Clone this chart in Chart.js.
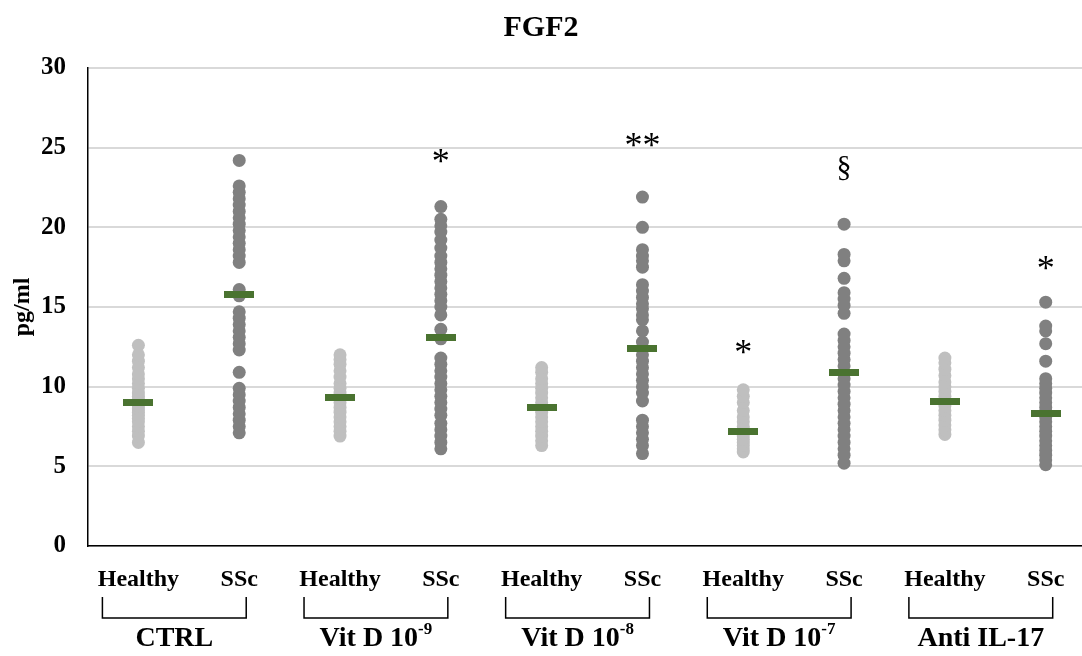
<!DOCTYPE html>
<html>
<head>
<meta charset="utf-8">
<script src="https://cdn.jsdelivr.net/npm/chart.js@4.4.1/dist/chart.umd.min.js"></script>
<style>
	html, body { margin: 0; padding: 0; background: #fff; overflow: hidden; }
	canvas { display: block; }
</style>
</head>
<body>
<canvas id="fgf2" width="1082" height="656"></canvas>
<script>
const SUB_LABELS = ['Healthy', 'SSc', 'Healthy', 'SSc', 'Healthy', 'SSc', 'Healthy', 'SSc', 'Healthy', 'SSc'];
const GROUPS = ['CTRL', 'Vit D 10', 'Vit D 10', 'Vit D 10', 'Anti IL-17'];
const GROUP_SUP = ['', '-9', '-8', '-7', ''];

// dot values, one list per column
const ctrl_healthy = [6.5, 6.9, 7.2, 7.5, 7.8, 8.0, 8.2, 8.4, 8.6, 8.8, 9.0, 9.2, 9.4, 9.6, 9.9, 10.2, 10.5, 10.8, 11.2, 11.6, 12.0, 12.6];
const ctrl_ssc = [24.2, 22.6, 22.2, 21.8, 21.4, 21.0, 20.6, 20.2, 19.8, 19.4, 19.0, 18.6, 18.2, 17.8, 16.1, 15.7, 14.7, 14.3, 13.9, 13.5, 13.1, 12.7, 12.3, 10.9, 9.9, 9.5, 9.1, 8.7, 8.3, 7.9, 7.5, 7.1];
const vd9_healthy = [6.9, 7.2, 7.5, 7.8, 8.1, 8.4, 8.7, 9.0, 9.3, 9.6, 9.9, 10.2, 10.6, 11.0, 11.4, 11.7, 12.0];
const vd9_ssc = [21.3, 20.5, 20.1, 19.7, 19.2, 18.7, 18.2, 17.8, 17.4, 17.0, 16.6, 16.2, 15.8, 15.4, 15.0, 14.5, 13.6, 13.0, 11.8, 11.4, 11.0, 10.6, 10.2, 9.8, 9.4, 9.0, 8.6, 8.2, 7.7, 7.3, 6.9, 6.5, 6.1];
const vd8_healthy = [6.3, 6.6, 6.9, 7.2, 7.5, 7.8, 8.1, 8.4, 8.7, 9.0, 9.3, 9.6, 9.9, 10.2, 10.5, 10.9, 11.2];
const vd8_ssc = [21.9, 20.0, 18.6, 18.2, 17.9, 17.5, 16.4, 16.0, 15.6, 15.2, 14.9, 14.5, 14.2, 13.5, 12.8, 12.4, 12.0, 11.6, 11.2, 10.8, 10.4, 10.0, 9.6, 9.1, 7.9, 7.5, 7.1, 6.7, 6.3, 5.8];
const vd7_healthy = [5.9, 6.1, 6.3, 6.5, 6.7, 6.9, 7.1, 7.3, 7.5, 7.8, 8.1, 8.5, 9.0, 9.4, 9.8];
const vd7_ssc = [20.2, 18.3, 17.9, 16.8, 15.9, 15.5, 15.1, 14.6, 13.3, 12.9, 12.5, 12.1, 11.7, 11.3, 10.9, 10.5, 10.1, 9.7, 9.3, 8.9, 8.5, 8.1, 7.7, 7.3, 6.9, 6.5, 6.1, 5.7, 5.2];
const il17_healthy = [7.0, 7.3, 7.6, 7.9, 8.2, 8.5, 8.8, 9.1, 9.4, 9.7, 10.0, 10.3, 10.7, 11.1, 11.5, 11.8];
const il17_ssc = [15.3, 13.8, 13.5, 12.7, 11.6, 10.5, 10.2, 9.9, 9.6, 9.3, 9.0, 8.7, 8.4, 8.1, 7.8, 7.5, 7.2, 6.9, 6.6, 6.3, 6.0, 5.7, 5.4, 5.1];

// mean bars
const MEANS = [9.0, 15.8, 9.3, 13.1, 8.7, 12.4, 7.2, 10.9, 9.1, 8.3];

// significance marks: column (1-based), text, value
const MARK_COL = [4, 6, 7, 8, 10];
const MARK_TEXT = ['*', '**', '*', '§', '*'];
const MARK_VAL = [24.5, 25.5, 12.5, 23.7, 17.8];

const Y_TICKS = [0, 5, 10, 15, 20, 25, 30];

const COLUMNS = [ctrl_healthy, ctrl_ssc, vd9_healthy, vd9_ssc, vd8_healthy, vd8_ssc, vd7_healthy, vd7_ssc, il17_healthy, il17_ssc];

const SERIF = '"Liberation Serif", "Times New Roman", serif';

const healthyPts = [];
const sscPts = [];
COLUMNS.forEach((col, i) => {
	col.forEach(v => {
		const p = { x: i + 1, y: v };
		if (i % 2 === 0) healthyPts.push(p); else sscPts.push(p);
	});
});
const meanPts = MEANS.map((m, i) => ({ x: i + 1, y: m }));

// green dash used as point style for the means
const dash = document.createElement('canvas');
dash.width = 30;
dash.height = 7;
const dctx = dash.getContext('2d');
dctx.fillStyle = '#4a7330';
dctx.fillRect(0, 0, 30, 7);

const groupPlugin = {
	id: 'groupLabels',
	afterDraw(chart) {
		const ctx = chart.ctx;
		const xs = chart.scales.x;
		const ys = chart.scales.y;
		ctx.save();
		// significance marks
		ctx.fillStyle = '#000';
		ctx.textAlign = 'center';
		ctx.textBaseline = 'middle';
		MARK_COL.forEach((c, i) => {
			const isAst = MARK_TEXT[i].indexOf('*') >= 0;
			ctx.font = (isAst ? '36px ' : '30px ') + SERIF;
			const y = ys.getPixelForValue(MARK_VAL[i]) + (isAst ? 8 : 0);
			ctx.fillText(MARK_TEXT[i], xs.getPixelForValue(c), y);
		});
		// brackets + group names
		ctx.strokeStyle = '#000';
		ctx.lineWidth = 1.5;
		GROUPS.forEach((g, i) => {
			const left = xs.getPixelForValue(2 * i + 1) - 36;
			const right = xs.getPixelForValue(2 * i + 2) + 7;
			const top = 597, bot = 618;
			ctx.beginPath();
			ctx.moveTo(left, top);
			ctx.lineTo(left, bot);
			ctx.lineTo(right, bot);
			ctx.lineTo(right, top);
			ctx.stroke();

			const mid = (left + right) / 2;
			ctx.font = 'bold 28px ' + SERIF;
			const w1 = ctx.measureText(g).width;
			ctx.font = 'bold 17px ' + SERIF;
			const w2 = GROUP_SUP[i] ? ctx.measureText(GROUP_SUP[i]).width : 0;
			const start = mid - (w1 + w2) / 2;
			ctx.textAlign = 'left';
			ctx.textBaseline = 'alphabetic';
			ctx.font = 'bold 28px ' + SERIF;
			ctx.fillText(g, start, 646);
			if (GROUP_SUP[i]) {
				ctx.font = 'bold 17px ' + SERIF;
				ctx.fillText(GROUP_SUP[i], start + w1, 634);
			}
		});
		ctx.restore();
	}
};

const config_fgf2 = {
	type: 'scatter',
	data: {
		datasets: [
			{
				label: 'Mean',
				data: meanPts,
				pointStyle: dash,
				order: 0,
			},
			{
				label: 'Healthy',
				data: healthyPts,
				pointRadius: 6.5,
				pointHoverRadius: 6.5,
				borderWidth: 0,
				backgroundColor: '#bfbfbf',
				borderColor: '#bfbfbf',
				order: 1,
			},
			{
				label: 'SSc',
				data: sscPts,
				pointRadius: 6.5,
				pointHoverRadius: 6.5,
				borderWidth: 0,
				backgroundColor: '#808080',
				borderColor: '#808080',
				order: 1,
			},
		]
	},
	options: {
		responsive: false,
		animation: false,
		layout: {
			autoPadding: false,
			padding: { left: 0, right: 0, top: 0, bottom: 60 }
		},
		plugins: {
			legend: { display: false },
			tooltip: { enabled: false },
			title: {
				display: true,
				text: 'FGF2',
				color: '#000',
				font: { family: SERIF, size: 30, weight: 'bold' },
				padding: { top: 10, bottom: 22 }
			}
		},
		scales: {
			x: {
				type: 'linear',
				min: 0.5,
				max: 10.36,
				afterBuildTicks(axis) {
					axis.ticks = SUB_LABELS.map((_, i) => ({ value: i + 1 }));
				},
				afterFit(axis) {
					axis.height = 50;
					axis.paddingLeft = 0;
					axis.paddingRight = 0;
				},
				ticks: {
					autoSkip: false,
					maxRotation: 0,
					padding: 19,
					color: '#000',
					font: { family: SERIF, size: 24, weight: 'bold' },
					callback: (v) => SUB_LABELS[v - 1]
				},
				grid: { display: false, drawTicks: false },
				border: { display: true, color: '#000', width: 1.5 }
			},
			y: {
				min: 0,
				max: 30,
				afterBuildTicks(axis) {
					axis.ticks = Y_TICKS.map(v => ({ value: v }));
				},
				afterFit(axis) {
					axis.width = 88;
				},
				title: {
					display: true,
					text: 'pg/ml',
					color: '#000',
					font: { family: SERIF, size: 24, weight: 'bold' },
					padding: { top: 8, bottom: 0 }
				},
				ticks: {
					padding: 22,
					color: '#000',
					font: { family: SERIF, size: 25, weight: 'bold' }
				},
				grid: { color: '#d9d9d9', lineWidth: 2, drawTicks: false },
				border: { display: true, color: '#000', width: 1.5 }
			}
		}
	},
	plugins: [groupPlugin]
};

const fgf2 = new Chart(
	document.getElementById('fgf2'),
	config_fgf2
);
</script>
</body>
</html>
